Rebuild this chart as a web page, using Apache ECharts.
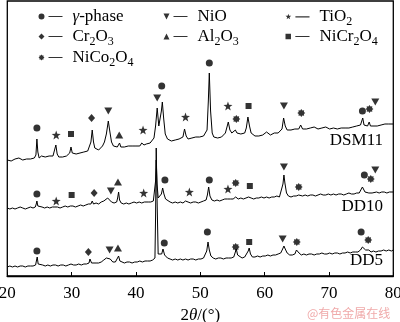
<!DOCTYPE html>
<html><head><meta charset="utf-8">
<script src="https://cdn.jsdelivr.net/npm/echarts@6/dist/echarts.min.js"></script>
<style>html,body{margin:0;padding:0;background:#fff}#c{width:400px;height:322px}</style>
</head><body><div id="c"></div>
<script>
// ---- data (2θ in degrees, intensity in arbitrary stacked units) ----
const xTicks = [20, 30, 40, 50, 60, 70, 80];
const traceNames = ['DSM11', 'DD10', 'DD5'];
const dsm11 = [[20,116],[20.3,117],[20.6,115],[20.9,116],[21.2,117],[21.5,116],[21.8,118],[22.1,117],[22.4,116],[22.7,118],[23,117],[23.3,118],[23.6,117],[23.9,119],[24.2,118],[24.45,121],[24.6,137],[24.75,124],[24.95,118],[25.3,120],[25.6,118],[25.9,119],[26.2,118],[26.5,120],[26.8,119],[27.1,120],[27.35,122],[27.55,131],[27.75,122],[28,119],[28.3,120],[28.6,119],[28.9,121],[29.2,120],[29.5,121],[29.7,123],[29.9,129],[30.1,123],[30.4,121],[30.7,122],[31,121],[31.3,123],[31.6,122],[31.9,124],[32.2,123],[32.5,125],[32.8,126],[33.0,134],[33.2,146],[33.4,134],[33.6,128],[33.9,127],[34.2,126],[34.5,128],[34.8,130],[35.1,134],[35.4,142],[35.7,155],[35.95,144],[36.2,134],[36.5,130],[36.8,128],[37.1,129],[37.3,131],[37.45,133],[37.65,129],[37.9,128],[38.2,129],[38.5,128],[38.8,130],[39.1,129],[39.4,130],[39.7,129],[40,130],[40.3,131],[40.6,130],[40.9,133],[41.05,135],[41.25,131],[41.6,132],[41.9,131],[42.2,133],[42.5,134],[42.8,138],[43.05,150],[43.3,168],[43.55,150],[43.75,149],[43.95,165],[44.1,174],[44.3,158],[44.55,142],[44.9,137],[45.2,136],[45.5,135],[45.8,137],[46.1,136],[46.4,138],[46.7,137],[47,137],[47.3,139],[47.55,147],[47.8,140],[48.1,137],[48.4,136],[48.7,138],[49,137],[49.3,139],[49.6,138],[49.9,139],[50.2,138],[50.5,140],[50.8,139],[51.05,146],[51.25,175],[51.4,203],[51.6,165],[51.85,143],[52.1,139],[52.4,140],[52.7,138],[53,140],[53.3,139],[53.6,141],[53.9,143],[54.15,149],[54.35,154],[54.6,146],[54.9,143],[55.2,142],[55.45,146],[55.7,143],[56,141],[56.3,142],[56.6,141],[56.9,143],[57.15,148],[57.4,159],[57.65,150],[57.9,143],[58.2,141],[58.5,140],[58.8,139],[59.1,140],[59.4,139],[59.7,141],[60,142],[60.3,144],[60.6,142],[60.9,141],[61.2,142],[61.5,143],[61.8,142],[62.1,143],[62.4,144],[62.7,147],[62.95,158],[63.2,150],[63.5,146],[63.8,147],[64.1,146],[64.4,148],[64.7,147],[65,148],[65.3,147],[65.6,151],[65.9,147],[66.2,148],[66.5,147],[66.8,149],[67.1,148],[67.4,147],[67.7,149],[68,148],[68.3,147],[68.6,149],[68.9,148],[69.2,147],[69.5,149],[69.8,148],[70.1,147],[70.4,149],[70.7,148],[71,149],[71.3,147],[71.6,149],[71.9,148],[72.2,150],[72.5,148],[72.8,149],[73.1,148],[73.4,150],[73.7,149],[74,148],[74.3,150],[74.6,149],[74.9,151],[75.1,155],[75.25,158],[75.45,151],[75.7,149],[76,150],[76.25,154],[76.45,150],[76.7,151],[77,150],[77.2,152],[77.5,150],[77.8,152],[78.1,151],[78.4,150],[78.7,152],[79,151],[79.3,152],[79.6,151],[80,152]];
const dd10 = [[20,68],[20.4,67],[20.8,68],[21.2,67],[21.6,68],[22,69],[22.4,68],[22.8,67],[23.2,68],[23.6,69],[24,68],[24.35,69],[24.5,72],[24.6,75],[24.75,70],[25,68],[25.4,69],[25.8,68],[26.2,69],[26.6,68],[27,69],[27.4,69],[27.6,71],[27.8,69],[28.2,68],[28.6,69],[29,70],[29.4,69],[29.8,70],[30,72],[30.2,70],[30.6,69],[31,70],[31.4,71],[31.8,70],[32.2,71],[32.6,72],[33,72],[33.2,75],[33.4,72],[33.8,73],[34.2,72],[34.6,74],[35,75],[35.3,77],[35.6,78],[35.9,76],[36.2,74],[36.6,73],[37,74],[37.15,78],[37.3,84],[37.45,76],[37.7,73],[38.1,72],[38.5,73],[38.9,72],[39.3,73],[39.7,74],[40.1,73],[40.5,74],[40.9,73],[41.3,74],[41.6,76],[41.9,74],[42.3,74],[42.7,75],[42.95,76],[43.05,95],[43.15,116],[43.28,92],[43.45,78],[43.7,79],[43.95,82],[44.15,88],[44.35,82],[44.6,77],[44.9,75],[45.3,74],[45.7,73],[46.1,74],[46.5,73],[46.9,74],[47.3,73],[47.7,75],[48.1,74],[48.5,73],[48.9,74],[49.3,74],[49.7,73],[50.1,74],[50.5,75],[50.9,76],[51.1,81],[51.3,89],[51.5,80],[51.8,76],[52.2,75],[52.6,76],[53,75],[53.4,76],[53.8,77],[54.2,77],[54.45,79],[54.7,77],[55.1,77],[55.5,79],[55.9,77],[56.3,78],[56.7,77],[57.1,78],[57.5,79],[57.7,80],[57.9,78],[58.3,77],[58.7,78],[59.1,78],[59.5,79],[59.9,78],[60.3,79],[60.7,78],[61.1,79],[61.5,79],[61.9,80],[62.3,79],[62.6,81],[62.85,92],[63.0,101],[63.15,93],[63.4,83],[63.7,80],[64.1,79],[64.5,80],[64.9,80],[65.3,81],[65.6,82],[65.9,80],[66.3,81],[66.7,80],[67.1,81],[67.5,81],[67.9,80],[68.3,81],[68.7,82],[69.1,81],[69.5,81],[69.9,82],[70.3,81],[70.7,82],[71.1,81],[71.5,82],[71.9,82],[72.3,81],[72.7,82],[73.1,83],[73.5,82],[73.9,82],[74.3,83],[74.7,83],[75.0,85],[75.2,89],[75.4,88],[75.6,84],[75.9,82],[76.2,83],[76.5,85],[76.7,83],[77.0,83],[77.4,84],[77.8,83],[78.2,84],[78.6,84],[79,83],[79.4,84],[79.7,85],[80,84]];
const dd5 = [[20,9],[20.4,10],[20.8,9],[21.2,10],[21.6,9],[22,10],[22.4,10],[22.8,9],[23.2,10],[23.6,10],[24,10],[24.4,11],[24.55,16],[24.65,19],[24.8,12],[25.1,10],[25.5,11],[25.9,10],[26.3,11],[26.7,10],[27.1,11],[27.5,11],[27.9,10],[28.3,11],[28.7,11],[29.1,10],[29.5,11],[29.9,12],[30.3,11],[30.7,11],[31.1,12],[31.5,11],[31.9,12],[32.3,12],[32.7,13],[32.85,17],[32.95,19],[33.1,13],[33.4,12],[33.8,13],[34.2,13],[34.6,14],[35,16],[35.4,18],[35.7,19],[36,17],[36.4,14],[36.8,14],[37.1,16],[37.3,20],[37.5,15],[37.8,14],[38.2,13],[38.6,14],[39,14],[39.4,13],[39.8,14],[40.2,14],[40.6,15],[41,14],[41.4,15],[41.8,15],[42.2,15],[42.6,16],[42.95,18],[43.05,60],[43.15,128],[43.3,70],[43.45,22],[43.7,20],[44.0,22],[44.2,27],[44.45,21],[44.9,18],[45.3,17],[45.7,16],[46.1,17],[46.5,16],[46.9,17],[47.3,16],[47.7,17],[48.1,16],[48.5,17],[48.9,17],[49.3,16],[49.7,17],[50.1,17],[50.5,18],[50.8,19],[51.0,25],[51.2,34],[51.4,26],[51.65,20],[52,18],[52.4,17],[52.8,18],[53.2,18],[53.6,17],[54,18],[54.4,18],[54.8,18],[55.2,19],[55.45,24],[55.6,27],[55.8,21],[56.1,19],[56.5,18],[56.9,19],[57.2,20],[57.45,25],[57.6,28],[57.8,22],[58.1,19],[58.5,19],[58.9,20],[59.3,19],[59.7,20],[60.1,20],[60.5,21],[60.9,20],[61.3,21],[61.7,21],[62.1,22],[62.5,23],[62.8,27],[63.0,30],[63.2,27],[63.5,23],[63.9,21],[64.3,21],[64.7,22],[64.95,26],[65.15,28],[65.35,23],[65.7,21],[66.1,22],[66.5,21],[66.9,22],[67.3,22],[67.7,21],[68.1,22],[68.5,22],[68.9,23],[69.3,22],[69.7,22],[70.1,23],[70.5,22],[70.9,23],[71.3,23],[71.7,22],[72.1,23],[72.5,23],[72.9,24],[73.3,23],[73.7,24],[74.1,24],[74.5,24],[74.9,26],[75.2,29],[75.45,31],[75.7,26],[75.95,24],[76.2,26],[76.35,27],[76.55,24],[76.9,25],[77.3,24],[77.7,25],[78.1,25],[78.5,26],[78.9,25],[79.3,26],[79.7,25],[80,26]];
// phase marker positions [2θ, level]
const gammaPts   = [[24.6,148],[44.0,190],[51.4,213],[75.2,165],[24.6,82],[44.5,96],[51.4,96],[75.5,101],[24.6,25],[44.4,33],[51.1,44],[75.0,44]];
const nioPts     = [[35.7,165],[43.3,178],[63.0,170],[77.2,174],[36.1,85],[63.0,109],[77.2,106],[35.9,26],[62.8,37]];
const tio2Pts    = [[27.6,141],[41.1,146],[47.7,159],[54.3,170],[27.6,75],[41.2,83],[48.3,84],[54.3,87]];
const cr2o3Pts   = [[33.1,158],[33.5,83],[32.6,24]];
const al2o3Pts   = [[37.4,141],[37.2,94],[37.2,28]];
const nicr2o4Pts = [[29.9,142],[57.5,170],[30.0,81],[57.7,90],[57.6,34]];
const nico2o4Pts = [[55.6,157],[65.7,163],[76.3,167],[55.5,93],[65.3,89],[76.5,97],[55.5,29],[65.0,34],[76.1,36]];
const phaseNames = ['γ-phase','NiO','TiO2','Cr2O3','Al2O3','NiCr2O4','NiCo2O4'];
const phaseLabels = ['{i|γ}-phase','NiO','TiO{s|2}','Cr{s|2}O{s|3}','Al{s|2}O{s|3}','NiCr{s|2}O{s|4}','NiCo{s|2}O{s|4}'];

// ---- styling ----
const FONT = '"Liberation Serif", "Times New Roman", serif';
const STAR = 'path://M10 0L12.35 6.76L19.51 6.91L13.8 11.24L15.88 18.09L10 14L4.12 18.09L6.2 11.24L0.49 6.91L7.65 6.76Z';
const SUN = 'path://M20 10L16.47 12.68L17.07 17.07L12.68 16.47L10 20L7.32 16.47L2.93 17.07L3.53 12.68L0 10L3.53 7.32L2.93 2.93L7.32 3.53L10 0L12.68 3.53L17.07 2.93L16.47 7.32Z';
const DASH = 'M10 2.4L24 2.4L24 3.6L10 3.6Z';
const icons = [
  'path://M0 3A3 3 0 1 1 6 3A3 3 0 1 1 0 3Z' + DASH,
  'path://M0 0L6 0L3 6Z' + DASH,
  'path://M3 0L3.7 2.03L5.85 2.07L4.14 3.37L4.76 5.43L3 4.2L1.24 5.43L1.86 3.37L0.15 2.07L2.3 2.03Z' + DASH,
  'path://M3 0L6 3L3 6L0 3Z' + DASH,
  'path://M0 6L6 6L3 0Z' + DASH,
  'path://M0.3 0.3L5.7 0.3L5.7 5.7L0.3 5.7Z' + DASH,
  'path://M6 3L4.94 3.8L5.12 5.12L3.8 4.94L3 6L2.2 4.94L0.88 5.12L1.06 3.8L0 3L1.06 2.2L0.88 0.88L2.2 1.06L3 0L3.8 1.06L5.12 0.88L4.94 2.2Z' + DASH
];
const phaseSymbols = [
  {symbol:'circle', symbolSize:7},
  {symbol:'triangle', symbolSize:[8,7], symbolRotate:180},
  {symbol:STAR, symbolSize:9},
  {symbol:'diamond', symbolSize:[7,8]},
  {symbol:'triangle', symbolSize:[8,7]},
  {symbol:'rect', symbolSize:6},
  {symbol:SUN, symbolSize:8}
];
const phaseData = [gammaPts, nioPts, tio2Pts, cr2o3Pts, al2o3Pts, nicr2o4Pts, nico2o4Pts];
const legendPos = [[38.5,8],[163.5,8],[285.5,8],[38.5,28],[163.5,28],[285.5,28],[38.5,49]];

const rich = {
  n: {fontSize:17, fontFamily:FONT, color:'#000', lineHeight:22},
  i: {fontSize:17, fontFamily:FONT, fontStyle:'italic', color:'#000', lineHeight:22},
  s: {fontSize:12, fontFamily:FONT, color:'#000', verticalAlign:'bottom', lineHeight:14}
};

const series = [];
[dsm11, dd10, dd5].forEach((d, k) => {
  series.push({name: traceNames[k], type:'line', data:d, showSymbol:false, symbol:'none',
    lineStyle:{color:'#000', width:1}, z:2, animation:false, silent:true});
});
phaseNames.forEach((nm, k) => {
  series.push(Object.assign({name:nm, type:'scatter', data:phaseData[k],
    itemStyle:{color:'#000'}, z:5, animation:false, silent:true}, phaseSymbols[k]));
});

const legends = phaseNames.map((nm, k) => ({
  data:[{name:nm, icon:icons[k]}], left:legendPos[k][0], top:legendPos[k][1],
  itemWidth:24, itemHeight:6, selectedMode:false, padding:0,
  formatter: () => '{n|' + phaseLabels[k].replace(/\{([is])\|([^}]*)\}/g, '}{$1|$2}{n|') + '}',
  textStyle:{rich, padding:[0,0,0,5], fontFamily:FONT}
}));

const chart = echarts.init(document.getElementById('c'), null, {renderer:'canvas'});
chart.setOption({
  backgroundColor:'#fff',
  animation:false,
  textStyle:{fontFamily:FONT, color:'#000'},
  grid:{left:7.3, right:6.7, top:1, bottom:46, containLabel:false, outerBoundsMode:'none',
    show:true, borderColor:'#000', borderWidth:1.3, backgroundColor:'transparent'},
  xAxis:{type:'value', min:xTicks[0], max:xTicks[xTicks.length-1], interval:10,
    axisLine:{show:true, lineStyle:{color:'#000', width:1.3}},
    axisTick:{show:true, inside:true, length:4, lineStyle:{color:'#000'}},
    axisLabel:{color:'#000', fontFamily:FONT, fontSize:17, margin:9, showMinLabel:true, showMaxLabel:true},
    splitLine:{show:false},
    name:'{n|2}{i|θ}{n|/(°)}', nameLocation:'middle', nameGap:25,
    nameTextStyle:{fontFamily:FONT, fontSize:17, color:'#000', rich:{n:{fontSize:17,fontFamily:FONT,color:'#000'}, i:{fontSize:17,fontFamily:FONT,fontStyle:'italic',color:'#000'}}}
  },
  yAxis:{type:'value', min:0, max:275, show:false},
  legend: legends,
  graphic:[
    {type:'text', x:383, y:141, style:{text:'DSM11', font:'17px "Liberation Serif"', fill:'#000', align:'right', verticalAlign:'middle', textAlign:'right', textVerticalAlign:'middle'}},
    {type:'text', x:383, y:207, style:{text:'DD10', font:'17px "Liberation Serif"', fill:'#000', align:'right', verticalAlign:'middle', textAlign:'right', textVerticalAlign:'middle'}},
    {type:'text', x:383, y:261, style:{text:'DD5', font:'17px "Liberation Serif"', fill:'#000', align:'right', verticalAlign:'middle', textAlign:'right', textVerticalAlign:'middle'}},
    {type:'text', x:307, y:313, style:{text:'@有色金属在线', font:'12px "Noto Sans CJK SC"', fill:'#f0aaaa', verticalAlign:'middle', textVerticalAlign:'middle'}}
  ],
  series
});
</script></body></html>
